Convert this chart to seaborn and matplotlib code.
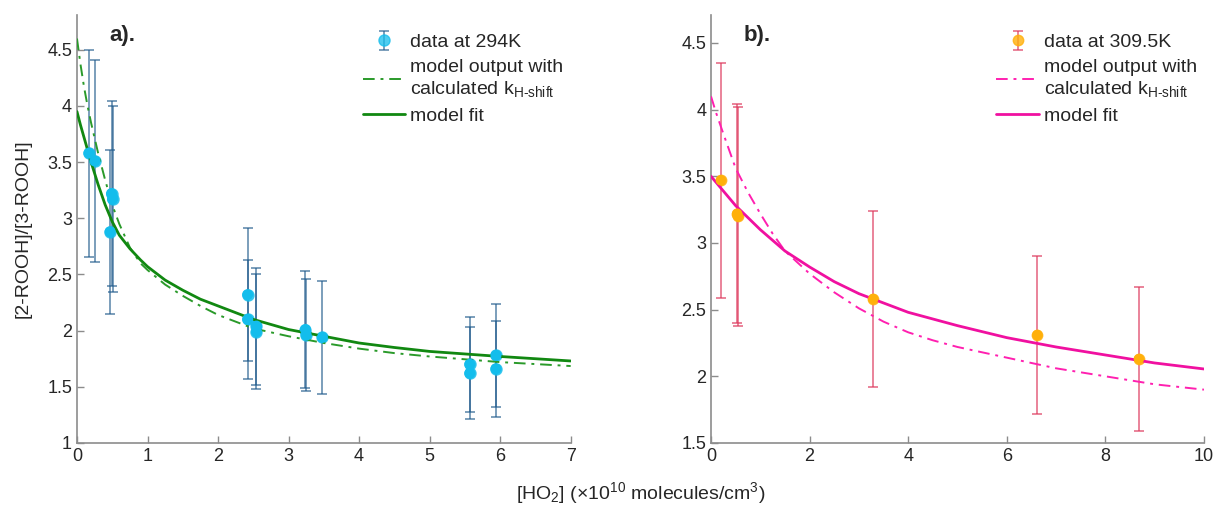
import matplotlib
matplotlib.use('Agg')
import matplotlib.pyplot as plt
import seaborn as sns
import pandas as pd
from matplotlib.ticker import FuncFormatter
from matplotlib.lines import Line2D

# ---- data ----
# a) 294 K
x_294 = [0.17, 0.255, 0.49, 0.505, 0.47, 2.42, 2.42, 2.545, 2.545, 3.24, 3.25, 3.48, 5.57, 5.57, 5.94, 5.94]
y_294 = [3.58, 3.51, 3.22, 3.17, 2.88, 2.32, 2.10, 2.04, 1.99, 2.01, 1.96, 1.94, 1.70, 1.62, 1.78, 1.66]
err_294 = [0.92, 0.90, 0.82, 0.83, 0.73, 0.59, 0.53, 0.52, 0.51, 0.52, 0.50, 0.50, 0.42, 0.41, 0.46, 0.43]

xm_294 = [0, 0.05, 0.1, 0.15, 0.2, 0.3, 0.4, 0.5, 0.6, 0.75, 0.9, 1, 1.25, 1.5, 1.75, 2, 2.5, 3, 3.5, 4, 4.5, 5, 6, 7]
fit_294 = [3.95, 3.83, 3.72, 3.61, 3.50, 3.30, 3.12, 2.97, 2.85, 2.73, 2.63, 2.57, 2.45, 2.36, 2.28, 2.22, 2.10, 2.01, 1.95, 1.89, 1.85, 1.815, 1.77, 1.73]
calc_294 = [4.60, 4.37, 4.17, 4.00, 3.85, 3.58, 3.34, 3.12, 2.95, 2.74, 2.60, 2.54, 2.41, 2.31, 2.22, 2.14, 2.02, 1.95, 1.89, 1.84, 1.80, 1.77, 1.72, 1.685]

# b) 309.5 K
x_310 = [0.20, 0.53, 0.55, 3.29, 6.62, 8.68]
y_310 = [3.47, 3.22, 3.20, 2.58, 2.31, 2.13]
err_310 = [0.88, 0.82, 0.82, 0.66, 0.59, 0.54]

xf_310 = [0, 0.25, 0.5, 0.75, 1, 1.5, 2, 2.5, 3, 3.5, 4, 4.5, 5, 6, 7, 8, 9, 10]
fit_310 = [3.50, 3.39, 3.28, 3.19, 3.10, 2.94, 2.82, 2.71, 2.62, 2.55, 2.48, 2.43, 2.38, 2.29, 2.22, 2.16, 2.10, 2.055]
xc_310 = [0, 0.1, 0.25, 0.5, 0.75, 1, 1.25, 1.5, 2, 2.5, 3, 3.5, 4, 4.5, 5, 6, 7, 8, 9, 10]
calc_310 = [4.10, 3.98, 3.82, 3.56, 3.38, 3.22, 3.07, 2.94, 2.77, 2.63, 2.51, 2.41, 2.33, 2.27, 2.22, 2.14, 2.06, 2.00, 1.94, 1.90]

sns.set_style('ticks')
plt.rcParams['font.family'] = ['Liberation Sans', 'DejaVu Sans']
plt.rcParams['mathtext.fontset'] = 'custom'
plt.rcParams['mathtext.rm'] = 'Liberation Sans'
plt.rcParams['mathtext.it'] = 'Liberation Sans:italic'
plt.rcParams['xtick.direction'] = 'in'
plt.rcParams['ytick.direction'] = 'in'

fig = plt.figure(figsize=(12.16, 5.08), dpi=100)
ax1 = fig.add_axes([0.0633, 0.128, 0.406, 0.8425])
ax2 = fig.add_axes([0.5847, 0.128, 0.4054, 0.8425])

calc_label = 'model output with\ncalculated k$_{\\mathrm{H\\text{-}shift}}$'
dashdot = (0, (6, 3, 1.5, 3))


def panel(ax, x, y, err, xfit, yfit, xcalc, ycalc, dot_col, bar_col, bar_alpha,
          line_col, calc_col, data_label, ms):
    df_pts = pd.DataFrame({'x': x, 'y': y})
    df_fit = pd.DataFrame({'x': xfit, 'y': yfit})
    df_calc = pd.DataFrame({'x': xcalc, 'y': ycalc})

    eb = ax.errorbar(x, y, yerr=err, fmt='o', ms=ms, mfc=dot_col, mec=dot_col,
                     ecolor=bar_col, elinewidth=1.1, capsize=3.6, capthick=1.1,
                     alpha=bar_alpha, zorder=2, label=data_label)
    sns.lineplot(data=df_calc, x='x', y='y', ax=ax, color=calc_col, lw=1.4,
                 linestyle=dashdot, zorder=3)
    sns.lineplot(data=df_fit, x='x', y='y', ax=ax, color=line_col, lw=2.0, zorder=3)
    sns.scatterplot(data=df_pts, x='x', y='y', ax=ax, color=dot_col, s=ms ** 2,
                    edgecolor='none', zorder=4)
    return eb


eb1 = panel(ax1, x_294, y_294, err_294, xm_294, fit_294, xm_294, calc_294,
            '#13BDEC', '#1F5A8C', 0.75, '#118811', '#2A9A2A', 'data at 294K', 8)
eb2 = panel(ax2, x_310, y_310, err_310, xf_310, fit_310, xc_310, calc_310,
            '#FFB00A', '#DE3A5E', 0.8, '#F010A0', '#FF20B0', 'data at 309.5K', 7.5)

for ax, eb, fitc, calcc, tag in [(ax1, eb1, '#118811', '#2A9A2A', 'a).'),
                                 (ax2, eb2, '#F010A0', '#FF20B0', 'b).')]:
    h_calc = Line2D([], [], color=calcc, lw=1.4, linestyle=dashdot)
    h_fit = Line2D([], [], color=fitc, lw=2.0)
    ax.legend([eb, h_calc, h_fit], [eb.get_label(), calc_label, 'model fit'],
              loc='upper left', bbox_to_anchor=(0.555, 0.984), frameon=False,
              fontsize=14, handlelength=2.2, handletextpad=0.25, labelspacing=0.42,
              borderaxespad=0.2)
    ax.text(0.066, 0.953, tag, transform=ax.transAxes,
            fontsize=16, fontweight='bold', ha='left', va='center')
    sns.despine(ax=ax)
    for s in ['left', 'bottom']:
        ax.spines[s].set_color('#8C8C8C')
        ax.spines[s].set_linewidth(1.2)
    ax.tick_params(colors='#8C8C8C', labelcolor='#262626', labelsize=13, length=5, width=1)
    ax.set_xlabel('')
    ax.set_ylabel('')
    ax.yaxis.set_major_formatter(FuncFormatter(lambda v, p: '%g' % v))
    ax.xaxis.set_major_formatter(FuncFormatter(lambda v, p: '%g' % v))

ax1.set_xlim(0, 7)
ax1.set_ylim(1, 4.81)
ax1.set_xticks(range(0, 8))
ax1.set_yticks([1, 1.5, 2, 2.5, 3, 3.5, 4, 4.5])
ax1.set_ylabel('[2-ROOH]/[3-ROOH]', fontsize=14, color='#262626', labelpad=11)

ax2.set_xlim(0, 10)
ax2.set_ylim(1.5, 4.71)
ax2.set_xticks(range(0, 11, 2))
ax2.set_yticks([1.5, 2, 2.5, 3, 3.5, 4, 4.5])

fig.text(0.527, 0.03, '[HO$_2$] ($\\times$10$^{10}$ molecules/cm$^3$)', ha='center',
         va='center', fontsize=14, color='#262626')

fig.savefig('out.png', dpi=100)
